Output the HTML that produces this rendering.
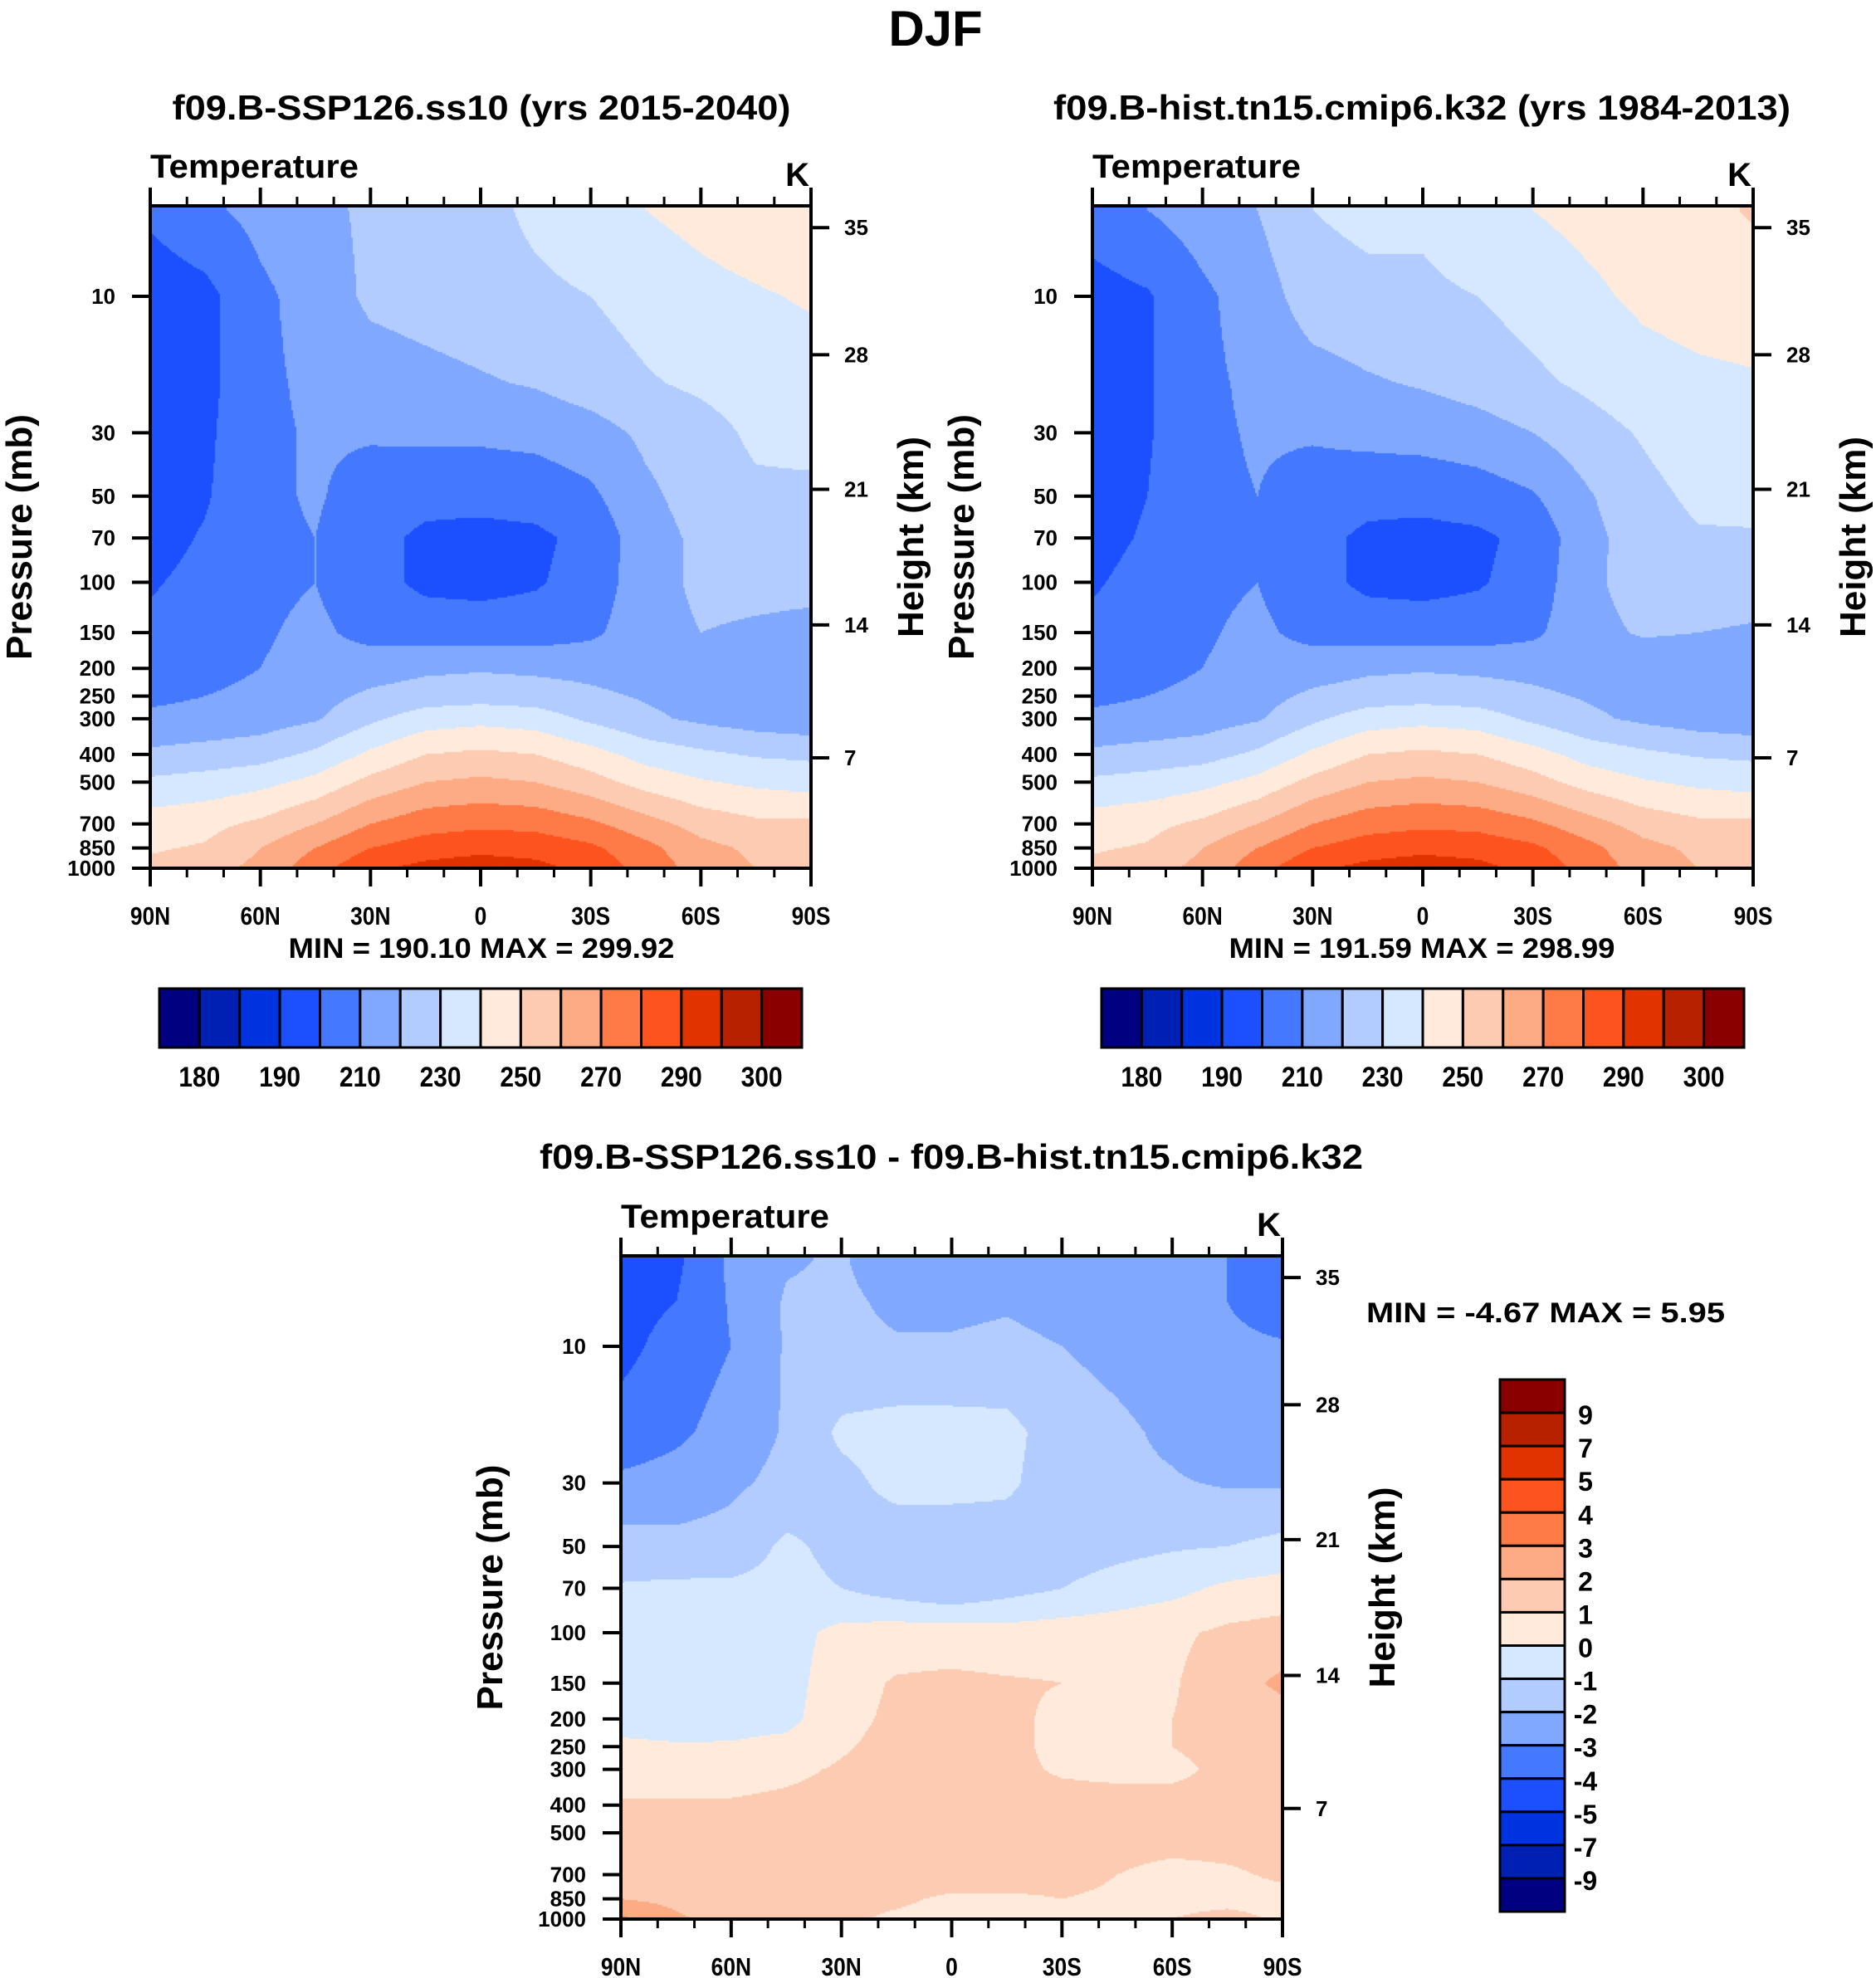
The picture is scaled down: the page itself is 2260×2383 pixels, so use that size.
<!DOCTYPE html>
<html><head><meta charset="utf-8"><style>
html,body{margin:0;padding:0;background:#fff;}
#wrap{position:relative;width:2260px;height:2383px;overflow:hidden;background:#fff;}
canvas{position:absolute;}
svg{position:absolute;left:0;top:0;}
text{font-family:"Liberation Sans",sans-serif;font-weight:bold;fill:#000;}
</style></head><body>
<div id="wrap">
<canvas id="c1"></canvas>
<canvas id="c2"></canvas>
<canvas id="c3"></canvas>
<svg id="svg" width="2260" height="2383"></svg>
</div>
<script>
// ---- data ----
const lats = [90,75,60,45,30,15,0,-15,-30,-45,-60,-75,-90];
const levelsAbs = [5,10,20,30,50,70,100,150,200,250,300,400,500,700,850,1000];
const levelsDiff = [5,7,10,20,30,50,70,100,150,200,250,300,400,500,700,850,1000];
const tempSSP = [
[202,208,213,217,222,225,227,232,236,240,243,246,249],
[194,197,208,214,222,224,226,228,230,234,237,239,241],
[193,197,208,212,215,217,219,221,225,229,232,235,236],
[193,198,208,211,211,212,212,213,216,222,226,232,233],
[194,199,208,211,206,203,203,204,208,218,224,228,228],
[196,201,208,210,203,198,197,198,203,216,222,226,226],
[199,203,208,210,203,198,197,199,204,216,222,222,222],
[202,205,209,212,207,205,205,205,208,216,220,219,218],
[203,206,210,213,215,218,219,218,217,215,214,214,214],
[208,210,213,216,222,225,226,225,222,219,216,213,212],
[212,213,215,219,228,235,237,235,228,222,218,215,213],
[222,224,226,232,242,250,252,250,244,236,232,229,228],
[232,234,237,243,253,260,262,260,254,246,241,238,236],
[245,247,252,260,270,276,278,277,272,264,256,252,252],
[249,251,260,270,280,285,287,286,282,273,263,258,258],
[252,256,263,276,288,293,296,293,287,276,266,260,255]];
const tempHist = [
[205,210,215,220,230,233,232,237,240,243,245,247,251],
[196,199,208,215,225,227,228,230,234,238,242,244,245],
[195,199,208,212,216,219,221,224,228,232,236,238,239],
[195,199,208,211,211,213,214,216,220,226,231,236,237],
[196,200,208,210,206,203,203,205,209,219,227,232,233],
[197,201,208,209,203,198,197,198,203,217,225,229,229],
[199,203,208,210,203,198,197,199,204,218,224,225,224],
[202,205,209,212,207,205,205,205,208,217,221,220,219],
[203,206,210,213,215,218,219,218,217,215,214,214,214],
[208,210,213,216,222,225,226,225,222,219,216,213,212],
[212,213,215,219,228,235,237,235,228,222,218,215,213],
[222,224,226,232,242,250,252,250,244,236,232,229,228],
[232,234,237,243,253,260,262,260,254,246,241,238,236],
[245,247,252,260,270,276,278,277,272,264,256,252,252],
[249,251,260,270,280,285,287,286,282,273,263,258,258],
[252,256,263,276,288,293,296,293,287,276,266,260,255]];
const tempDiff = [
[-4.3,-4.2,-2.8,-2.1,-1.9,-2.6,-2.6,-2.5,-2.4,-2.6,-2.7,-3.0,-3.6],
[-4.4,-4.0,-2.9,-1.9,-1.8,-2.2,-2.2,-2.1,-2.3,-2.5,-2.7,-3.0,-3.5],
[-4.3,-3.6,-3.0,-1.9,-1.8,-1.9,-1.9,-1.8,-2.0,-2.3,-2.6,-2.8,-2.9],
[-3.6,-3.2,-2.6,-1.9,-0.8,-0.6,-0.6,-0.7,-1.5,-1.8,-2.2,-2.9,-2.6],
[-2.8,-2.6,-2.2,-1.7,-1.3,-0.7,-0.6,-0.8,-1.6,-1.8,-1.9,-2.1,-2.1],
[-1.6,-1.7,-1.6,-0.8,-1.3,-1.6,-1.8,-1.6,-1.5,-1.3,-1.1,-1.0,-0.7],
[-0.9,-0.8,-0.8,-0.7,-1.0,-1.5,-1.9,-1.4,-1.0,-0.6,-0.3,0.2,0.4],
[-0.6,-0.6,-0.6,-0.4,0.3,0.5,0.5,0.4,0.5,0.6,0.8,1.2,1.4],
[-0.5,-0.5,-0.5,-0.4,0.6,1.1,1.2,1.1,1.0,0.8,0.9,1.6,2.2],
[-0.4,-0.5,-0.4,-0.3,0.7,1.2,1.3,1.2,0.8,0.6,1.0,1.4,1.6],
[0.2,0.1,0.1,0.3,0.9,1.3,1.3,1.2,0.8,0.6,1.0,1.3,1.4],
[0.5,0.5,0.6,0.8,1.1,1.3,1.3,1.2,0.9,0.8,0.8,1.2,1.3],
[1.1,1.1,1.1,1.2,1.3,1.3,1.3,1.3,1.3,1.3,1.3,1.3,1.3],
[1.3,1.3,1.3,1.3,1.3,1.3,1.3,1.3,1.3,1.3,1.3,1.3,1.3],
[1.3,1.3,1.3,1.3,1.3,1.3,1.3,1.3,1.2,1.0,0.8,0.9,1.1],
[2.0,1.7,1.4,1.3,1.2,1.1,0.9,0.9,1.0,0.9,0.8,0.8,0.8],
[3.2,2.2,1.5,1.2,1.1,0.9,0.8,0.9,0.9,0.9,1.0,1.2,0.9]];
const absBounds = [180,185,190,200,210,220,230,240,250,260,270,280,290,295,300];
const absLabels = ["180","190","210","230","250","270","290","300"];
const diffBounds = [-9,-7,-5,-4,-3,-2,-1,0,1,2,3,4,5,7,9];
const colors = ["#000080","#0020b4","#0033e0","#1c50ff","#4479ff","#80a8ff","#b3ccff","#d6e8ff","#ffeadb","#fdcbb2","#fdab85","#fe7a46","#fd531f","#e13300","#b82100","#8a0000"];
const pTicks = [10,30,50,70,100,150,200,250,300,400,500,700,850,1000];
const hTicks = ["35","28","21","14","7"];
const hPress = [5.75,16.0,47.3,141,411];
const latTickVals = [90,60,30,0,-30,-60,-90];
const latTickLabels = ["90N","60N","30N","0","30S","60S","90S"];
const minorLats = [80,70,50,40,20,10,-10,-20,-40,-50,-70,-80];

const NS="http://www.w3.org/2000/svg";
const svg=document.getElementById('svg');
function el(tag,attrs,parent){const e=document.createElementNS(NS,tag);for(const k in attrs)e.setAttribute(k,attrs[k]);(parent||svg).appendChild(e);return e;}
function txt(s,x,y,size,anchor,name,extra){const t=el('text',Object.assign({x:x,y:y,'font-size':size,'text-anchor':anchor||'start'},extra||{}));t.textContent=s;


return t;}

function colorFor(v,bounds){let i=0;while(i<bounds.length&&v>=bounds[i])i++;return colors[i];}
function field(data,levels,lat,p){
  let fx=(90-lat)/15; let i0=Math.min(Math.floor(fx),lats.length-2); let tx=fx-i0;
  let lp=Math.log10(Math.max(levels[0],Math.min(1000,p)));
  let j0=0; while(j0<levels.length-2&&Math.log10(levels[j0+1])<lp)j0++;
  let a=Math.log10(levels[j0]),b=Math.log10(levels[j0+1]); let ty=(lp-a)/(b-a); ty=Math.max(0,Math.min(1,ty));
  const r0=data[j0][i0]*(1-tx)+data[j0][i0+1]*tx, r1=data[j0+1][i0]*(1-tx)+data[j0+1][i0+1]*tx;
  return r0*(1-ty)+r1*ty;
}

function panel(cfg){
  const {L,R,T,B,y10,y1000,data,levels,bounds,canvas,pfx}=cfg;
  const dec=(y1000-y10)/2;
  const yP=p=>y10+(Math.log10(p)-1)*dec;
  const pY=y=>Math.pow(10,1+(y-y10)/dec);
  const xL=lat=>L+(90-lat)/180*(R-L);
  const latX=x=>90-(x-L)/(R-L)*180;
  const c=document.getElementById(canvas);
  c.width=R-L;c.height=B-T;c.style.left=L+'px';c.style.top=T+'px';
  const ctx=c.getContext('2d');const s=2;
  for(let y=0;y<B-T;y+=s){for(let x=0;x<R-L;x+=s){
    const v=field(data,levels,latX(L+x+s/2),pY(T+y+s/2));
    ctx.fillStyle=colorFor(v,bounds);ctx.fillRect(x,y,s,s);}}
  const g=el('g',{});
  
  
  el('rect',{x:L,y:T,width:R-L,height:B-T,fill:'none',stroke:'#000','stroke-width':4},g);
  latTickVals.forEach((lv,i)=>{const x=xL(lv);
    el('line',{x1:x,y1:T,x2:x,y2:T-22,stroke:'#000','stroke-width':4},g);
    el('line',{x1:x,y1:B,x2:x,y2:B+22,stroke:'#000','stroke-width':4},g);
    txt(latTickLabels[i],x,B+68,31,'middle',pfx+'-x-tick-label',{transform:`translate(${x},0) scale(0.85,1) translate(${-x},0)`});});
  minorLats.forEach(lv=>{const x=xL(lv);
    el('line',{x1:x,y1:T,x2:x,y2:T-11,stroke:'#000','stroke-width':3},g);
    el('line',{x1:x,y1:B,x2:x,y2:B+11,stroke:'#000','stroke-width':3},g);});
  pTicks.forEach(p=>{const y=yP(p);
    el('line',{x1:L,y1:y,x2:L-22,y2:y,stroke:'#000','stroke-width':4},g);
    txt(String(p),L-42,y+9,26,'end',pfx+'-pressure-tick-label');});
  hTicks.forEach((h,i)=>{const y=yP(hPress[i]);
    el('line',{x1:R,y1:y,x2:R+22,y2:y,stroke:'#000','stroke-width':4},g);
    txt(h,R+40,y+9,26,'start',pfx+'-height-tick-label');});
  txt('Temperature',L,T-34,40,'start',pfx+'-variable-label',{textLength:251,lengthAdjust:'spacingAndGlyphs'});
  txt('K',R-2,T-24,40,'end',pfx+'-units-label');
  const cy=(T+B)/2;
  txt('Pressure (mb)',L-158,cy,44,'middle',pfx+'-y-axis-title',{transform:`rotate(-90 ${L-158} ${cy})`,dy:15});
  txt('Height (km)',R+120,cy,44,'middle',pfx+'-right-axis-title',{transform:`rotate(-90 ${R+120} ${cy})`,dy:15});
}

txt('DJF',1127,55,60,'middle','figure-title');
panel({L:181,R:977,T:248,B:1046,y10:357,y1000:1046,data:tempSSP,levels:levelsAbs,bounds:absBounds,canvas:'c1',pfx:'ssp126'});
txt('f09.B-SSP126.ss10 (yrs 2015-2040)',580,144,42,'middle','ssp126-panel-title',{textLength:745,lengthAdjust:'spacingAndGlyphs'});
txt('MIN = 190.10  MAX = 299.92',580,1154,34,'middle','ssp126-min-max',{textLength:465,lengthAdjust:'spacingAndGlyphs'});
panel({L:1316,R:2112,T:248,B:1046,y10:357,y1000:1046,data:tempHist,levels:levelsAbs,bounds:absBounds,canvas:'c2',pfx:'hist'});
txt('f09.B-hist.tn15.cmip6.k32 (yrs 1984-2013)',1713,144,42,'middle','hist-panel-title',{textLength:888,lengthAdjust:'spacingAndGlyphs'});
txt('MIN = 191.59  MAX = 298.99',1713,1154,34,'middle','hist-min-max',{textLength:465,lengthAdjust:'spacingAndGlyphs'});
panel({L:748,R:1545,T:1513,B:2312,y10:1622,y1000:2312,data:tempDiff,levels:levelsDiff,bounds:diffBounds,canvas:'c3',pfx:'diff'});
txt('f09.B-SSP126.ss10 - f09.B-hist.tn15.cmip6.k32',1146,1408,42,'middle','diff-panel-title',{textLength:992,lengthAdjust:'spacingAndGlyphs'});
txt('MIN =  -4.67  MAX =   5.95',1646,1593,34,'start','diff-min-max',{textLength:432,lengthAdjust:'spacingAndGlyphs'});

function hbar(x0,x1,y0,y1,pfx){
  const w=(x1-x0)/colors.length;
  colors.forEach((c,i)=>{const r=el('rect',{x:x0+i*w,y:y0,width:w,height:y1-y0,fill:c,stroke:'#000','stroke-width':3});
    
    });
  absLabels.forEach((s,k)=>{const x=x0+(1+2*k)*w;
    txt(s,x,y1+47,34,'middle',pfx+'-colorbar-label',{transform:`translate(${x},0) scale(0.88,1) translate(${-x},0)`});});
}
hbar(192,966,1191,1262,'ssp126');
hbar(1327,2101,1191,1262,'hist');
(function(){const x0=1807,x1=1885,y0=1662,y1=2303;const h=(y1-y0)/colors.length;
  colors.slice().reverse().forEach((c,i)=>{const r=el('rect',{x:x0,y:y0+i*h,width:x1-x0,height:h,fill:c,stroke:'#000','stroke-width':3});
    
    });
  diffBounds.slice().reverse().forEach((b,i)=>{const y=y0+(i+1)*h;
    txt(String(b),1910,y+14,32,'middle','diff-colorbar-label');});
})();
</script>
</body></html>
